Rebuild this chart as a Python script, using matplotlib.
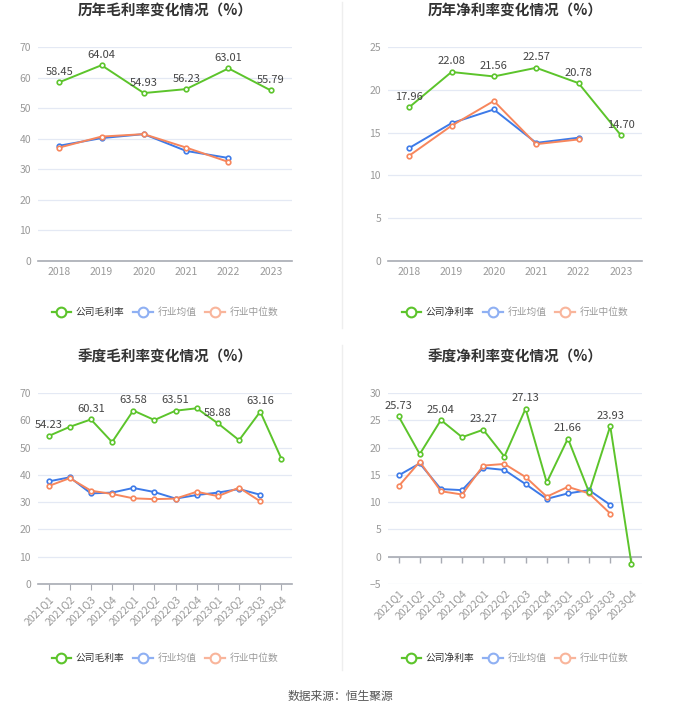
import matplotlib
matplotlib.use("Agg")
import matplotlib.pyplot as plt
from matplotlib.lines import Line2D

plt.rcParams['font.family'] = ['Noto Sans CJK SC', 'DejaVu Sans']

years = ['2018', '2019', '2020', '2021', '2022', '2023']
quarters = ['2021Q1', '2021Q2', '2021Q3', '2021Q4', '2022Q1', '2022Q2',
            '2022Q3', '2022Q4', '2023Q1', '2023Q2', '2023Q3', '2023Q4']

# annual gross margin
gross_company = [58.45, 64.04, 54.93, 56.23, 63.01, 55.79]
gross_mean = [37.7, 40.2, 41.5, 36.0, 33.7]
gross_median = [37.1, 40.7, 41.5, 37.1, 32.4]

# annual net margin
net_company = [17.96, 22.08, 21.56, 22.57, 20.78, 14.70]
net_mean = [13.2, 16.1, 17.7, 13.8, 14.4]
net_median = [12.3, 15.8, 18.7, 13.65, 14.2]

# quarterly gross margin
qgross_company = [54.23, 57.6, 60.31, 52.0, 63.58, 60.1, 63.51, 64.4, 58.88, 52.7, 63.16, 45.9]
qgross_mean = [37.6, 39.1, 33.2, 33.5, 35.2, 33.7, 31.3, 32.6, 33.5, 34.8, 32.7]
qgross_median = [35.9, 38.8, 34.2, 33.0, 31.4, 31.1, 31.3, 33.8, 32.2, 35.3, 30.3]

# quarterly net margin
qnet_company = [25.73, 18.8, 25.04, 21.9, 23.27, 18.35, 27.13, 13.6, 21.66, 11.8, 23.93, -1.28]
qnet_mean = [14.9, 17.1, 12.4, 12.2, 16.3, 15.9, 13.3, 10.6, 11.6, 12.2, 9.5]
qnet_median = [12.9, 17.4, 12.0, 11.4, 16.7, 17.0, 14.6, 11.0, 12.8, 11.6, 7.9]

GREEN = '#5cc42b'
BLUE = '#3d7ae8'
ORANGE = '#f7865c'
GRID = '#e4e9f4'
AXIS = '#a8abb3'

W, H = 680, 712
fig = plt.figure(figsize=(W / 100, H / 100), dpi=100)
fig.patch.set_facecolor('white')


def make_ax(x0, x1, ytop, ybot):
    return fig.add_axes([x0 / W, 1 - ybot / H, (x1 - x0) / W, (ybot - ytop) / H])


def draw_panel(ax, cats, comp, mean, med, ylim, yticks, title, comp_name,
               label_idx, rotate, title_y, legend_y):
    x = list(range(len(cats)))
    ax.set_xlim(-0.5, len(cats) - 0.5)
    ax.set_ylim(*ylim)
    ax.set_yticks(yticks)
    ax.grid(axis='y', color=GRID, lw=0.9)
    ax.set_axisbelow(True)
    for s in ['top', 'right', 'left']:
        ax.spines[s].set_visible(False)
    ax.spines['bottom'].set_color(AXIS)
    ax.spines['bottom'].set_linewidth(1.2)
    ax.tick_params(axis='y', length=0, labelsize=7.5, labelcolor='#999999', pad=5)
    ax.set_xticks(x)
    if rotate:
        ax.set_xticklabels(cats, rotation=45, ha='right', rotation_mode='anchor')
        tick_len = 4
        if ylim[0] < 0:
            # axis line sits on zero, ticks hang from it
            ax.spines['bottom'].set_visible(False)
            ax.axhline(0, color=AXIS, lw=1.2, zorder=1)
            ax.plot(x, [0] * len(x), ls='none', marker=3, markersize=4,
                    markeredgewidth=1, color=AXIS, zorder=1, clip_on=False)
            tick_len = 0
        ax.tick_params(axis='x', length=tick_len, color=AXIS, labelsize=7.5,
                       labelcolor='#999999', pad=3)
    else:
        ax.set_xticklabels(cats)
        ax.tick_params(axis='x', length=0, labelsize=7.5, labelcolor='#999999', pad=4)

    mk = dict(marker='o', markersize=3.3, markerfacecolor='white', markeredgewidth=1.2)
    ax.plot(x[:len(mean)], mean, color=BLUE, lw=1.4, markeredgecolor=BLUE, zorder=3, **mk)
    ax.plot(x[:len(med)], med, color=ORANGE, lw=1.4, markeredgecolor=ORANGE, zorder=3, **mk)
    ax.plot(x, comp, color=GREEN, lw=1.4, markeredgecolor=GREEN, zorder=4, **mk)
    for i in label_idx:
        ax.annotate(f'{comp[i]:.2f}', (x[i], comp[i]), xytext=(0, 4),
                    textcoords='offset points', ha='center', va='bottom',
                    fontsize=8, color='#444444', zorder=5)

    bb = ax.get_position()
    cx = bb.x0 + bb.width / 2
    fig.text(cx, 1 - title_y / H, title, ha='center', va='center',
             fontsize=10.5, fontweight='bold', color='#333333')

    handles = [
        Line2D([], [], color=GREEN, lw=1.6, marker='o', markersize=7,
               markerfacecolor='white', markeredgewidth=1.5),
        Line2D([], [], color='#8fb0f3', lw=1.6, marker='o', markersize=7,
               markerfacecolor='white', markeredgewidth=1.5),
        Line2D([], [], color='#f9b59b', lw=1.6, marker='o', markersize=7,
               markerfacecolor='white', markeredgewidth=1.5),
    ]
    leg = fig.legend(handles, [comp_name, '行业均值', '行业中位数'], loc='center',
                     bbox_to_anchor=(cx, 1 - legend_y / H), ncol=3, frameon=False,
                     fontsize=7, handlelength=2.0, handletextpad=0.5, columnspacing=0.9)
    txts = leg.get_texts()
    txts[0].set_color('#333333')
    txts[1].set_color('#999999')
    txts[2].set_color('#999999')


ax1 = make_ax(38, 292, 47, 261)
draw_panel(ax1, years, gross_company, gross_mean, gross_median, (0, 70),
           range(0, 71, 10), '历年毛利率变化情况（%）', '公司毛利率',
           range(6), False, 11, 312)

ax2 = make_ax(388, 642, 47, 261)
draw_panel(ax2, years, net_company, net_mean, net_median, (0, 25),
           range(0, 26, 5), '历年净利率变化情况（%）', '公司净利率',
           range(6), False, 11, 312)

ax3 = make_ax(38, 292, 393, 584)
draw_panel(ax3, quarters, qgross_company, qgross_mean, qgross_median, (0, 70),
           range(0, 71, 10), '季度毛利率变化情况（%）', '公司毛利率',
           range(0, 12, 2), True, 357, 658)

ax4 = make_ax(388, 642, 393, 584)
draw_panel(ax4, quarters, qnet_company, qnet_mean, qnet_median, (-5, 30),
           range(-5, 31, 5), '季度净利率变化情况（%）', '公司净利率',
           range(0, 12, 2), True, 357, 658)

# thin separators between panels
fig.add_artist(Line2D([342 / W, 342 / W], [1 - 2 / H, 1 - 328 / H], color='#eeeeee', lw=1))
fig.add_artist(Line2D([342 / W, 342 / W], [1 - 345 / H, 1 - 670 / H], color='#eeeeee', lw=1))

fig.text(0.5, 1 - 696 / H, '数据来源：恒生聚源', ha='center', va='center',
         fontsize=8.5, color='#555555')

fig.savefig('out.png', dpi=100, facecolor='white')
